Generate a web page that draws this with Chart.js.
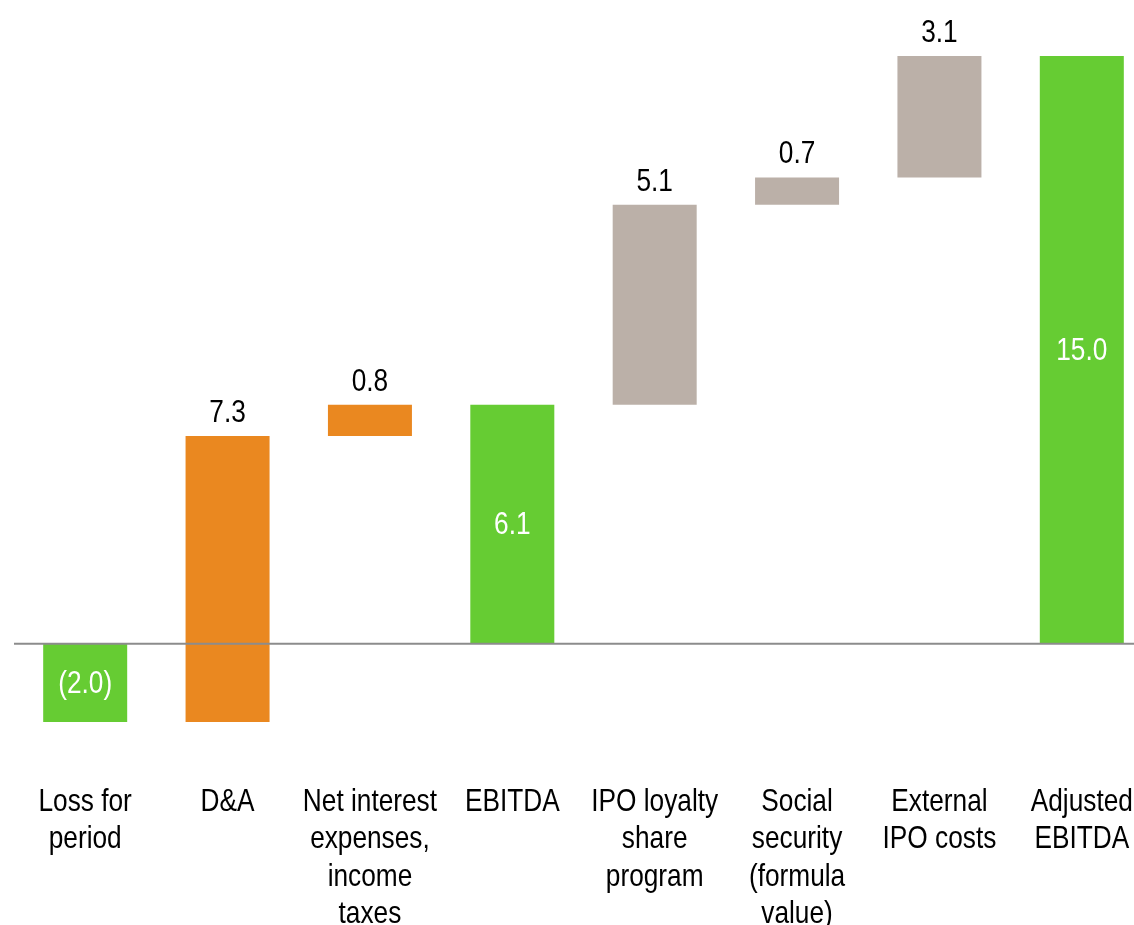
<!DOCTYPE html>
<html>
<head>
<meta charset="utf-8">
<script src="https://cdn.jsdelivr.net/npm/chart.js@4/dist/chart.umd.min.js"></script>
<style>
  html, body { margin: 0; padding: 0; background: #fff; overflow: hidden; }
  #wrap { width: 1154px; height: 925px; }
</style>
</head>
<body>
<div id="wrap"><canvas id="bridgeChart"></canvas></div>
<script>
// Bridge from loss for period to adjusted EBITDA (EUR m)
const categories = [
    ['Loss for', 'period'],
    ['D&A'],
    ['Net interest', 'expenses,', 'income', 'taxes'],
    ['EBITDA'],
    ['IPO loyalty', 'share', 'program'],
    ['Social', 'security', '(formula', 'value)'],
    ['External', 'IPO costs'],
    ['Adjusted', 'EBITDA']
];
const amounts = [-2.0, 7.3, 0.8, 6.1, 5.1, 0.7, 3.1, 15.0];
// 'total' bars start at zero, 'step' bars continue from the running sum
const kinds = ['total', 'step', 'step', 'total', 'step', 'step', 'step', 'total'];
const barColors = ['#66cc33', '#ea8820', '#ea8820', '#66cc33', '#bbb0a8', '#bbb0a8', '#bbb0a8', '#66cc33'];

const FONT = '"Liberation Sans", Arial, sans-serif';
const NARROW = 0.82;   // horizontal squeeze to get a condensed look

// floating ranges for the waterfall
let running = 0;
const ranges = amounts.map((v, i) => {
    if (kinds[i] === 'total') {
        running = v;
        return [0, v];
    }
    const start = running;
    running = +(running + v).toFixed(1);
    return [start, running];
});

function fmt(v) {
    return v < 0 ? '(' + Math.abs(v).toFixed(1) + ')' : v.toFixed(1);
}

function narrowText(ctx, text, x, y) {
    ctx.save();
    ctx.translate(x, y);
    ctx.scale(NARROW, 1);
    ctx.fillText(text, 0, 0);
    ctx.restore();
}

// zero line over the bars, value labels and category labels
const bridgeLabels = {
    id: 'bridgeLabels',
    afterDatasetsDraw(chart) {
        const ctx = chart.ctx;
        const area = chart.chartArea;
        const y0 = chart.scales.y.getPixelForValue(0);
        ctx.save();
        ctx.strokeStyle = '#8c8c8c';
        ctx.lineWidth = 2;
        ctx.beginPath();
        ctx.moveTo(area.left, y0);
        ctx.lineTo(area.right, y0);
        ctx.stroke();

        ctx.font = '32px ' + FONT;
        ctx.textAlign = 'center';
        chart.getDatasetMeta(0).data.forEach((bar, i) => {
            const top = Math.min(bar.y, bar.base);
            const bottom = Math.max(bar.y, bar.base);
            if (kinds[i] === 'total') {
                ctx.fillStyle = '#ffffff';
                ctx.textBaseline = 'middle';
                narrowText(ctx, fmt(amounts[i]), bar.x, (top + bottom) / 2 + 1);
            } else {
                ctx.fillStyle = '#000000';
                ctx.textBaseline = 'alphabetic';
                narrowText(ctx, fmt(amounts[i]), bar.x, top - 14);
            }
        });

        // category names under the plot
        const xScale = chart.scales.x;
        ctx.fillStyle = '#000000';
        ctx.textBaseline = 'alphabetic';
        categories.forEach((lines, i) => {
            const x = xScale.getPixelForValue(i);
            lines.forEach((line, j) => {
                narrowText(ctx, line, x, area.bottom + 89 + j * 37.3);
            });
        });
        ctx.restore();
    }
};

const bridgeCtx = document.getElementById('bridgeChart').getContext('2d');
new Chart(bridgeCtx, {
    type: 'bar',
    data: {
        labels: categories.map(c => c.join(' ')),
        datasets: [{
            data: ranges,
            backgroundColor: barColors,
            borderWidth: 0,
            barPercentage: 0.59,
            categoryPercentage: 1
        }]
    },
    options: {
        responsive: true,
        maintainAspectRatio: false,
        animation: false,
        layout: {
            padding: { top: 56, left: 14, right: 1, bottom: 203 }
        },
        plugins: {
            legend: { display: false },
            tooltip: { enabled: false }
        },
        scales: {
            y: {
                display: false,
                min: -2,
                max: 15
            },
            x: {
                display: false
            }
        }
    },
    plugins: [bridgeLabels]
});
</script>
</body>
</html>
